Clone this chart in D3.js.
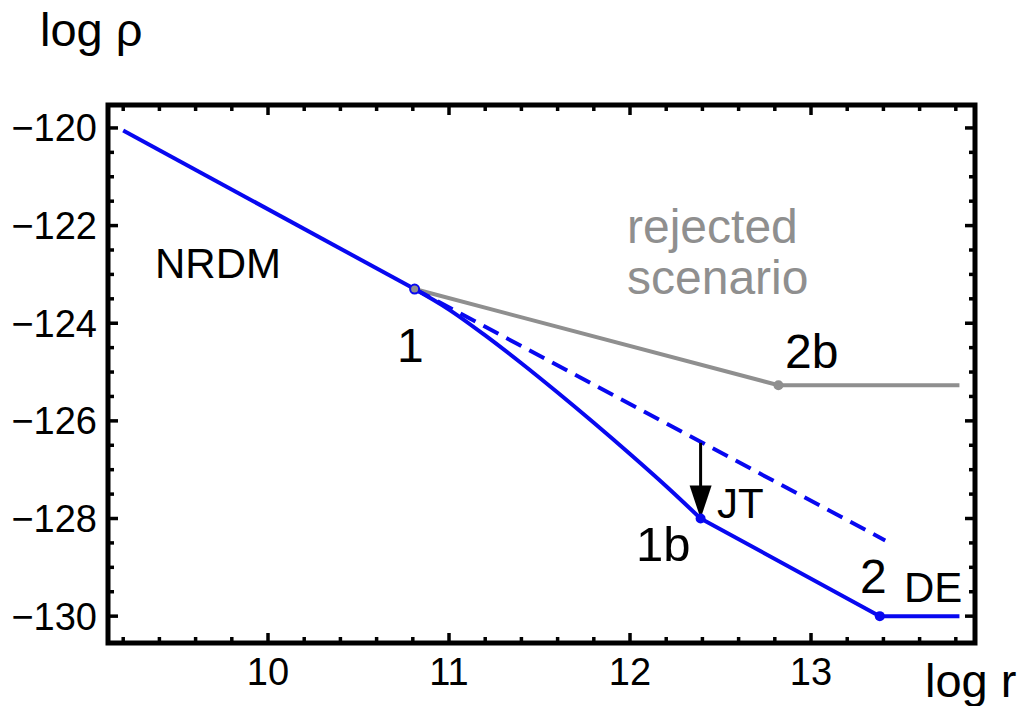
<!DOCTYPE html>
<html>
<head>
<meta charset="utf-8">
<script src="https://cdn.jsdelivr.net/npm/d3@7"></script>
<style>
  body { margin: 0; background: #fff; }
  text { font-family: "Liberation Sans", Arial, sans-serif; }
</style>
</head>
<body>
<div id="chart"></div>
<script>
// Data (log r, log rho)
const nrdmR = [9.2, 10.81];
const nrdmRho = [-120.05, -123.3];

const jtR = [10.81, 11.0, 11.2, 11.4, 11.6, 11.8, 12.0, 12.2, 12.39];
const jtRho = [-123.3, -123.72, -124.25, -124.82, -125.42, -126.04, -126.68, -127.34, -128.0];

const deR = [12.39, 13.38, 13.82];
const deRho = [-128.0, -130.0, -130.0];

const dashR = [10.81, 13.41];
const dashRho = [-123.3, -128.45];

const rejR = [10.81, 12.82, 13.82];
const rejRho = [-123.3, -125.27, -125.27];

const arrowR = 12.39;
const arrowFrom = -126.45, arrowTo = -128.0;

const xTicks = [10, 11, 12, 13];
const yTicks = [-120, -122, -124, -126, -128, -130];

// Set dimensions
const width = 1023, height = 706;
const pLeft = 108, pRight = 975, pTop = 105, pBottom = 643;

const svg = d3.select("#chart")
  .append("svg")
  .attr("width", width)
  .attr("height", height);

const x = d3.scaleLinear().domain([9.116, 13.906]).range([pLeft, pRight]);
const y = d3.scaleLinear().domain([-119.53, -130.55]).range([pTop, pBottom]);

const zip = (a, b) => a.map((v, i) => [v, b[i]]);
const line = d3.line().x(d => x(d[0])).y(d => y(d[1]));
const curve = d3.line().x(d => x(d[0])).y(d => y(d[1])).curve(d3.curveMonotoneX);

const blue = "#0808f0", gray = "#8f8f8f";

// Ticks on all four sides, pointing inward
const xMinor = d3.range(46, 140, 2).map(v => v / 10).filter(v => v > 9.12 && v < 13.9);
const yMinor = d3.range(-1200, -1306, -5).map(v => v / 10).filter(v => v > -130.5);
const ticks = svg.append("g").attr("stroke", "#000").attr("stroke-width", 3.5);
xMinor.forEach(v => {
  const len = Number.isInteger(v) ? 10 : 6;
  ticks.append("line").attr("x1", x(v)).attr("x2", x(v)).attr("y1", pBottom).attr("y2", pBottom - len);
  ticks.append("line").attr("x1", x(v)).attr("x2", x(v)).attr("y1", pTop).attr("y2", pTop + len);
});
yMinor.forEach(v => {
  const len = Number.isInteger(v) && v % 2 === 0 ? 10 : 6;
  ticks.append("line").attr("y1", y(v)).attr("y2", y(v)).attr("x1", pLeft).attr("x2", pLeft + len);
  ticks.append("line").attr("y1", y(v)).attr("y2", y(v)).attr("x1", pRight).attr("x2", pRight - len);
});

// Frame
svg.append("rect")
  .attr("x", pLeft).attr("y", pTop)
  .attr("width", pRight - pLeft).attr("height", pBottom - pTop)
  .attr("fill", "none").attr("stroke", "#000").attr("stroke-width", 5);

// Tick labels
svg.selectAll(".xl").data(xTicks).enter().append("text")
  .attr("x", d => x(d)).attr("y", 685)
  .attr("text-anchor", "middle").style("font-size", "38px")
  .text(d => d);
svg.selectAll(".yl").data(yTicks).enter().append("text")
  .attr("x", 97).attr("y", d => y(d) + 13.5)
  .attr("text-anchor", "end").style("font-size", "38px")
  .text(d => "\u2212" + Math.abs(d));

// Axis titles
svg.append("text").attr("x", 40).attr("y", 46).style("font-size", "47px").text("log \u03c1");
svg.append("text").attr("x", 925).attr("y", 697).style("font-size", "47px").text("log r");

// Rejected scenario (gray)
svg.append("path").attr("d", line(zip(rejR, rejRho)))
  .attr("fill", "none").attr("stroke", gray).attr("stroke-width", 4);

// Dashed continuation
svg.append("path").attr("d", line(zip(dashR, dashRho)))
  .attr("fill", "none").attr("stroke", blue).attr("stroke-width", 4)
  .attr("stroke-dasharray", "17,9");

// Solid blue path
svg.append("path").attr("d", line(zip(nrdmR, nrdmRho)))
  .attr("fill", "none").attr("stroke", blue).attr("stroke-width", 4);
svg.append("path").attr("d", curve(zip(jtR, jtRho)))
  .attr("fill", "none").attr("stroke", blue).attr("stroke-width", 4);
svg.append("path").attr("d", line(zip(deR, deRho)))
  .attr("fill", "none").attr("stroke", blue).attr("stroke-width", 4);

// Arrow
const ax = x(arrowR), ay1 = y(arrowFrom), ay2 = y(arrowTo);
svg.append("line").attr("x1", ax).attr("x2", ax).attr("y1", ay1).attr("y2", ay2 - 25)
  .attr("stroke", "#000").attr("stroke-width", 3);
svg.append("path")
  .attr("d", `M${ax - 11},${ay2 - 33} L${ax + 11},${ay2 - 33} L${ax},${ay2} Z`)
  .attr("fill", "#000");

// Points
svg.append("circle").attr("cx", x(rejR[0])).attr("cy", y(rejRho[0])).attr("r", 4.5)
  .attr("fill", gray).attr("stroke", blue).attr("stroke-width", 2);
svg.append("circle").attr("cx", x(rejR[1])).attr("cy", y(rejRho[1])).attr("r", 5).attr("fill", gray);
svg.append("circle").attr("cx", x(deR[0])).attr("cy", y(deRho[0])).attr("r", 5).attr("fill", blue);
svg.append("circle").attr("cx", x(deR[1])).attr("cy", y(deRho[1])).attr("r", 5).attr("fill", blue);

// Annotations
const labels = [
  { t: "NRDM", x: 155, y: 278, s: 42, c: "#000" },
  { t: "rejected", x: 627, y: 243, s: 48, c: gray },
  { t: "scenario", x: 627, y: 294, s: 48, c: gray },
  { t: "1", x: 397, y: 362, s: 48, c: "#000" },
  { t: "2b", x: 785, y: 368, s: 48, c: "#000" },
  { t: "JT", x: 717, y: 518, s: 42, c: "#000" },
  { t: "1b", x: 636, y: 561, s: 49, c: "#000" },
  { t: "2", x: 860, y: 593, s: 48, c: "#000" },
  { t: "DE", x: 904, y: 602, s: 42, c: "#000" }
];
svg.selectAll(".ann").data(labels).enter().append("text")
  .attr("x", d => d.x).attr("y", d => d.y)
  .style("font-size", d => d.s + "px")
  .attr("fill", d => d.c)
  .text(d => d.t);
</script>
</body>
</html>
